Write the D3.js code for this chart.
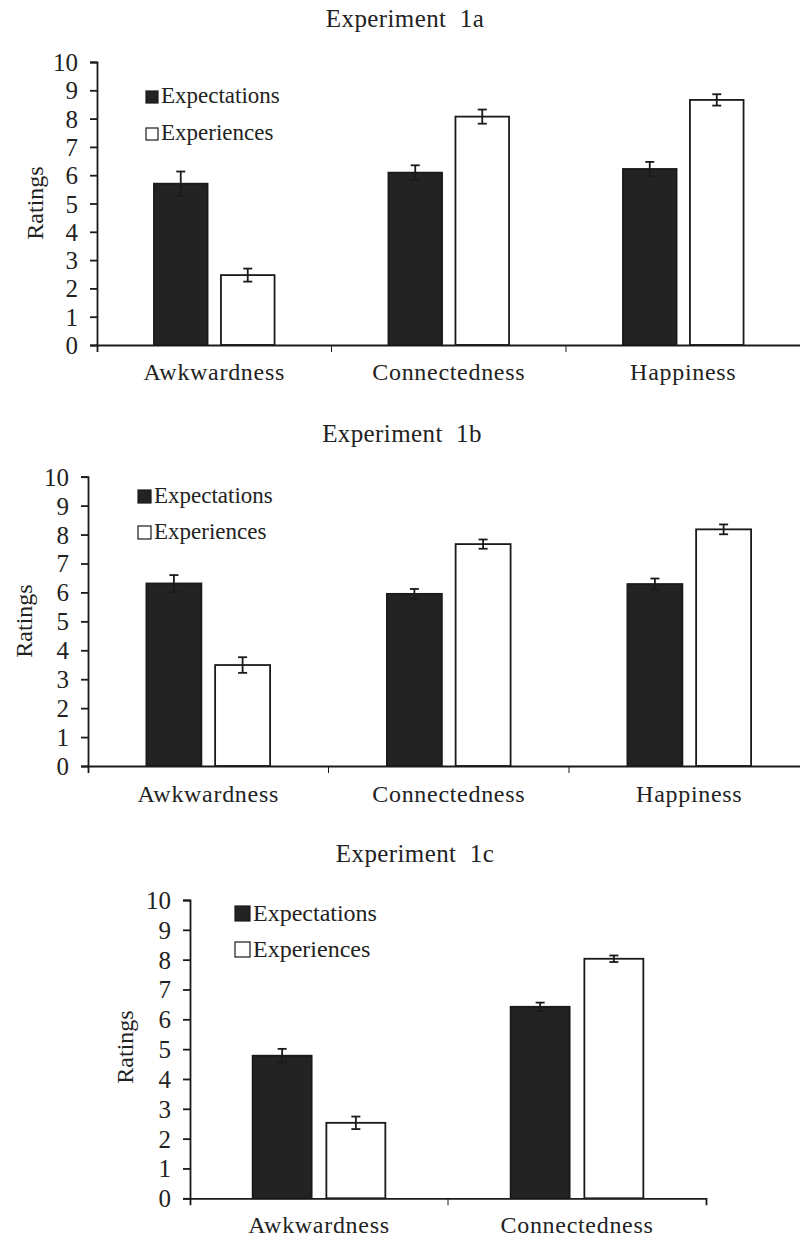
<!DOCTYPE html>
<html>
<head>
<meta charset="utf-8">
<script src="https://cdn.jsdelivr.net/npm/d3@7"></script>
<style>
  body { margin: 0; background: #fff; }
</style>
</head>
<body>
<svg id="chart" width="800" height="1240"></svg>
<script>
// values (means and error bar half-widths)
const seriesNames = ['Expectations', 'Experiences'];
const yTickValues = [0, 1, 2, 3, 4, 5, 6, 7, 8, 9, 10];

const categories1a = ['Awkwardness', 'Connectedness', 'Happiness'];
const expectations1a = [5.70, 6.09, 6.22];
const expectationsErr1a = [0.43, 0.26, 0.25];
const experiences1a = [2.47, 8.07, 8.66];
const experiencesErr1a = [0.23, 0.25, 0.20];

const categories1b = ['Awkwardness', 'Connectedness', 'Happiness'];
const expectations1b = [6.31, 5.95, 6.29];
const expectationsErr1b = [0.29, 0.17, 0.19];
const experiences1b = [3.49, 7.67, 8.18];
const experiencesErr1b = [0.27, 0.16, 0.17];

const categories1c = ['Awkwardness', 'Connectedness'];
const expectations1c = [4.78, 6.42];
const expectationsErr1c = [0.23, 0.14];
const experiences1c = [2.53, 8.03];
const experiencesErr1c = [0.21, 0.11];

const barFill = ['#232323', '#ffffff'];
const FONT = "'Liberation Serif', 'DejaVu Serif', serif";
const svg = d3.select('#chart');

function drawPanel(p) {
    const g = svg.append('g');

    const x = d3.scaleBand()
        .domain(p.categories)
        .range([p.left, p.left + p.step * p.categories.length])
        .padding(0);
    const xInner = d3.scaleBand()
        .domain(seriesNames)
        .range([0, x.bandwidth()])
        .paddingInner(0.2)
        .paddingOuter(0.85);
    const y = d3.scaleLinear().domain([0, 10]).range([p.bottom, p.top]);

    // title
    g.append('text')
        .attr('x', p.titleX).attr('y', p.titleY)
        .attr('text-anchor', 'middle')
        .style('font-size', '25px')
        .style('letter-spacing', '0.4px')
        .style('white-space', 'pre')
        .text(p.title);

    // bars + error bars
    const rows = [];
    p.categories.forEach((c, i) => {
        rows.push({ cat: c, s: 0, v: p.expectations[i], e: p.expectationsErr[i] });
        rows.push({ cat: c, s: 1, v: p.experiences[i], e: p.experiencesErr[i] });
    });

    g.selectAll('rect.bar')
        .data(rows)
        .enter()
        .append('rect')
        .attr('class', 'bar')
        .attr('x', d => x(d.cat) + xInner(seriesNames[d.s]))
        .attr('y', d => y(d.v))
        .attr('width', xInner.bandwidth())
        .attr('height', d => y(0) - y(d.v))
        .attr('fill', d => barFill[d.s])
        .attr('stroke', '#1a1a1a')
        .attr('stroke-width', 1.8);

    const err = g.selectAll('g.err')
        .data(rows)
        .enter()
        .append('g')
        .attr('class', 'err')
        .attr('stroke', '#1a1a1a')
        .attr('stroke-width', 1.8);
    const cx = d => x(d.cat) + xInner(seriesNames[d.s]) + xInner.bandwidth() / 2;
    err.append('line')
        .attr('x1', cx).attr('x2', cx)
        .attr('y1', d => y(d.v + d.e)).attr('y2', d => y(d.v - d.e));
    [1, -1].forEach(sign => {
        err.append('line')
            .attr('x1', d => cx(d) - 4.5).attr('x2', d => cx(d) + 4.5)
            .attr('y1', d => y(d.v + sign * d.e)).attr('y2', d => y(d.v + sign * d.e));
    });

    // y axis
    const yAxis = g.append('g')
        .attr('transform', `translate(${p.left},0)`)
        .call(d3.axisLeft(y).tickValues(yTickValues).tickSize(7).tickPadding(12));
    yAxis.selectAll('text')
        .style('font-size', '25px')
        .attr('dy', '0.34em');

    // x axis
    const xAxis = g.append('g')
        .attr('transform', `translate(0,${p.bottom})`)
        .call(d3.axisBottom(x).tickSizeInner(0).tickSizeOuter(7).tickPadding(0));
    xAxis.selectAll('text')
        .style('font-size', '24px')
        .style('letter-spacing', '0.7px')
        .attr('dy', 0)
        .attr('y', p.labelOffset);
    // category boundary ticks
    xAxis.selectAll('line.sep')
        .data(p.categories.slice(1))
        .enter()
        .append('line')
        .attr('class', 'sep')
        .attr('x1', d => x(d)).attr('x2', d => x(d))
        .attr('y1', 0).attr('y2', 7)
        .attr('stroke', '#1a1a1a');

    g.selectAll('.domain, .tick line')
        .attr('stroke', '#1a1a1a')
        .attr('stroke-width', 1.8);

    // y label
    g.append('text')
        .attr('transform', `translate(${p.ratingsX},${p.ratingsY}) rotate(-90)`)
        .attr('text-anchor', 'middle')
        .attr('dy', '0.35em')
        .style('font-size', '24px')
        .text('Ratings');

    // legend
    const lg = g.selectAll('g.leg')
        .data(seriesNames)
        .enter()
        .append('g')
        .attr('class', 'leg')
        .attr('transform', (d, i) => `translate(${p.legendX},${p.legendY + i * p.legendGap})`);
    lg.append('rect')
        .attr('x', 0).attr('y', -p.box)
        .attr('width', p.box).attr('height', p.box)
        .attr('fill', (d, i) => barFill[i])
        .attr('stroke', '#1a1a1a')
        .attr('stroke-width', 1.2);
    lg.append('text')
        .attr('x', p.box + 3).attr('y', 0)
        .style('font-size', p.legendFont + 'px')
        .text(d => d);

    // every text gets the serif face inline
    g.selectAll('text')
        .style('font-family', FONT)
        .style('fill', '#222');
}

drawPanel({
    title: 'Experiment  1a', titleX: 405, titleY: 27,
    categories: categories1a,
    expectations: expectations1a, expectationsErr: expectationsErr1a,
    experiences: experiences1a, experiencesErr: experiencesErr1a,
    left: 97, step: 234.5, top: 62, bottom: 345, labelOffset: 35,
    ratingsX: 35, ratingsY: 203,
    legendX: 146, legendY: 103, legendGap: 37, box: 12, legendFont: 23
});

drawPanel({
    title: 'Experiment  1b', titleX: 402, titleY: 442,
    categories: categories1b,
    expectations: expectations1b, expectationsErr: expectationsErr1b,
    experiences: experiences1b, experiencesErr: experiencesErr1b,
    left: 88, step: 240.5, top: 476.7, bottom: 766, labelOffset: 36,
    ratingsX: 24, ratingsY: 621,
    legendX: 138, legendY: 503, legendGap: 36, box: 13, legendFont: 23
});

drawPanel({
    title: 'Experiment  1c', titleX: 415, titleY: 862,
    categories: categories1c,
    expectations: expectations1c, expectationsErr: expectationsErr1c,
    experiences: experiences1c, experiencesErr: experiencesErr1c,
    left: 190, step: 258, top: 900, bottom: 1198.3, labelOffset: 35,
    ratingsX: 125, ratingsY: 1047,
    legendX: 235, legendY: 921, legendGap: 36, box: 15, legendFont: 24
});
</script>
</body>
</html>
